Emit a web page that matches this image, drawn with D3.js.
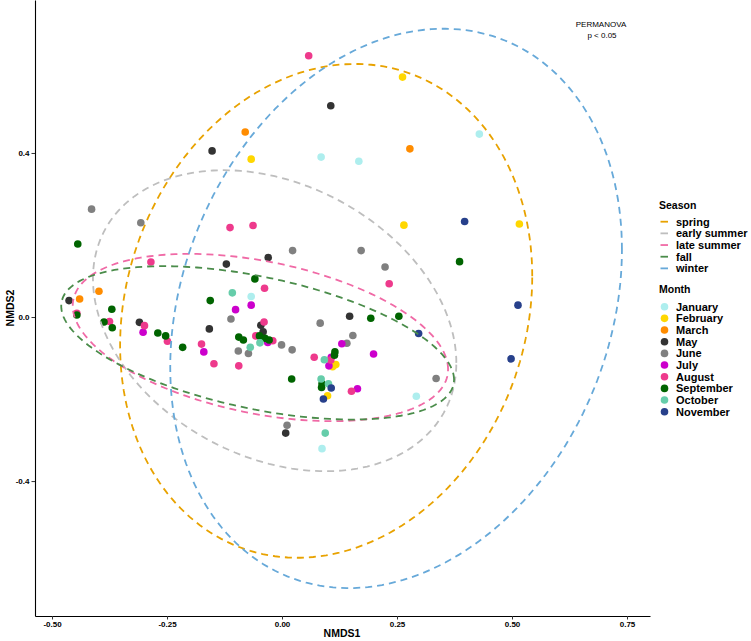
<!DOCTYPE html>
<html>
<head>
<meta charset="utf-8">
<script src="https://cdn.jsdelivr.net/npm/d3@7"></script>
<style>
  body { margin: 0; background: #fff; }
  text { font-family: "Liberation Sans", Arial, sans-serif; }
</style>
</head>
<body>
<div id="chart"></div>
<script>
// months shown in the legend, with their point colours
var months = ["January", "February", "March", "May", "June", "July", "August", "September", "October", "November"];
var monthColors = ["#AEEEEE", "#FFD700", "#FF8C00", "#333333", "#808080", "#CC00CC", "#EE3A8C", "#006400", "#66CDAA", "#27408B"];

// NMDS scores per month [NMDS1, NMDS2]
var january = [[0.085, 0.390], [0.167, 0.380], [0.429, 0.446], [-0.067, 0.050], [0.292, -0.193], [0.087, -0.321]];
var february = [[0.262, 0.585], [-0.067, 0.385], [0.265, 0.224], [0.516, 0.227], [0.117, -0.116], [0.110, -0.121], [0.099, -0.192]];
var march = [[-0.080, 0.451], [0.278, 0.410], [-0.398, 0.063], [-0.440, 0.044]];
var may = [[0.106, 0.515], [-0.152, 0.405], [-0.030, 0.145], [-0.121, 0.129], [-0.463, 0.040], [-0.310, -0.013],
  [-0.158, -0.029], [-0.046, -0.020], [-0.041, -0.036], [0.147, 0.002], [0.008, -0.283]];
var june = [[-0.414, 0.263], [-0.307, 0.230], [0.023, 0.162], [0.172, 0.162], [0.224, 0.122], [-0.111, -0.005],
  [-0.095, -0.083], [-0.073, -0.089], [-0.001, -0.068], [0.022, -0.080], [0.083, -0.015], [0.154, -0.045],
  [0.141, -0.064], [0.335, -0.150], [0.011, -0.264]];
var july = [[-0.067, 0.029], [-0.101, 0.018], [-0.031, -0.062], [-0.170, -0.085], [-0.302, -0.037], [0.130, -0.065],
  [0.199, -0.090], [0.107, -0.098], [0.102, -0.119], [0.164, -0.175]];
var august = [[0.058, 0.637], [-0.113, 0.218], [-0.063, 0.223], [-0.285, 0.134], [-0.038, 0.070], [-0.039, -0.012],
  [-0.057, -0.046], [-0.020, -0.058], [-0.175, -0.066], [-0.148, -0.114], [-0.094, -0.119], [0.070, -0.098],
  [0.106, -0.105], [0.151, -0.181], [0.233, 0.081], [-0.446, 0.009], [-0.375, -0.011], [-0.299, -0.021], [-0.249, -0.059]];
var september = [[-0.444, 0.178], [-0.059, 0.093], [-0.156, 0.040], [-0.094, -0.049], [-0.084, -0.056], [-0.049, -0.046],
  [-0.037, -0.052], [-0.028, -0.056], [-0.216, -0.074], [0.193, -0.003], [0.115, -0.085], [0.114, -0.093],
  [0.021, -0.151], [0.087, -0.163], [0.086, -0.172], [0.386, 0.135], [0.254, 0.002], [-0.446, 0.005],
  [-0.370, 0.019], [-0.387, -0.012], [-0.369, -0.026], [-0.270, -0.039], [-0.253, -0.046]];
var october = [[-0.108, 0.059], [-0.048, -0.063], [-0.069, -0.074], [0.092, -0.104], [0.085, -0.151], [0.101, -0.163], [0.094, -0.283]];
var november = [[0.397, 0.233], [0.513, 0.029], [0.297, -0.040], [0.498, -0.102], [0.107, -0.173], [0.090, -0.200]];
var monthPoints = [january, february, march, may, june, july, august, september, october, november];

// season ellipses: centre, half extents along each axis and tilt (correlation)
var seasons = ["spring", "early summer", "late summer", "fall", "winter"];
var seasonColors = ["#E8A200", "#BEBEBE", "#F06AA6", "#4A8C4A", "#67A9D9"];
var seasonCentreX = [0.096, -0.016, -0.047, -0.053, 0.248];
var seasonCentreY = [0.015, -0.009, -0.050, -0.063, 0.021];
var seasonHalfX = [0.448, 0.395, 0.408, 0.427, 0.491];
var seasonHalfY = [0.602, 0.367, 0.204, 0.187, 0.682];
var seasonTilt = [0.14, -0.28, -0.38, -0.48, 0.21];

var xTicks = [-0.5, -0.25, 0, 0.25, 0.5, 0.75];
var yTicks = [-0.4, 0, 0.4];

var width = 751, height = 641;
var svg = d3.select("#chart").append("svg").attr("width", width).attr("height", height);

var x = d3.scaleLinear().domain([-0.537, 0.8]).range([35, 650]);
var y = d3.scaleLinear().domain([-0.729, 0.773]).range([616, 0]);

// axes
var hyphen = function (f) { return function (d) { return f(d).replace("\u2212", "-"); }; };
var xAxis = svg.append("g").attr("transform", "translate(0,616)")
  .call(d3.axisBottom(x).tickValues(xTicks).tickSize(3.5).tickSizeOuter(0).tickPadding(2).tickFormat(hyphen(d3.format(".2f"))));
var yAxis = svg.append("g").attr("transform", "translate(35,0)")
  .call(d3.axisLeft(y).tickValues(yTicks).tickSize(3.5).tickSizeOuter(0).tickPadding(2).tickFormat(hyphen(d3.format(".1f"))));
[xAxis, yAxis].forEach(function (a) {
  a.select(".domain").attr("stroke", "#000").attr("stroke-width", 1.1);
  a.selectAll(".tick line").attr("stroke", "#333");
  a.selectAll(".tick text").attr("fill", "#000").style("font-size", "8px").style("font-weight", "bold");
});

svg.append("text").attr("x", 342).attr("y", 637).attr("text-anchor", "middle")
  .style("font-size", "10.5px").style("font-weight", "bold").text("NMDS1");
svg.append("text").attr("transform", "translate(14,308) rotate(-90)").attr("text-anchor", "middle")
  .style("font-size", "10.5px").style("font-weight", "bold").text("NMDS2");

// points
var plot = svg.append("g");
monthPoints.forEach(function (pts, i) {
  plot.selectAll(null).data(pts).enter().append("circle")
    .attr("cx", function (d) { return x(d[0]); })
    .attr("cy", function (d) { return y(d[1]); })
    .attr("r", 3.8)
    .attr("fill", monthColors[i]);
});

// ellipses
var line = d3.line().x(function (d) { return x(d[0]); }).y(function (d) { return y(d[1]); });
seasons.forEach(function (s, i) {
  var r = seasonTilt[i], q = Math.sqrt(1 - r * r);
  var path = d3.range(0, 201).map(function (k) {
    var t = k / 200 * 2 * Math.PI;
    return [seasonCentreX[i] + seasonHalfX[i] * Math.cos(t),
            seasonCentreY[i] + seasonHalfY[i] * (r * Math.cos(t) + q * Math.sin(t))];
  });
  plot.append("path").attr("d", line(path)).attr("fill", "none")
    .attr("stroke", seasonColors[i]).attr("stroke-width", 1.8).attr("stroke-dasharray", "7,5");
});

// annotation
svg.append("text").attr("x", 601).attr("y", 27).attr("text-anchor", "middle").style("font-size", "8px").text("PERMANOVA");
svg.append("text").attr("x", 602).attr("y", 38).attr("text-anchor", "middle").style("font-size", "8px").text("p < 0.05");

// legends
var lg = svg.append("g");
lg.append("text").attr("x", 659).attr("y", 209).style("font-size", "10.5px").style("font-weight", "bold").text("Season");
seasons.forEach(function (s, i) {
  var yy = 221.7 + i * 11.67;
  lg.append("line").attr("x1", 660.5).attr("x2", 668).attr("y1", yy).attr("y2", yy)
    .attr("stroke", seasonColors[i]).attr("stroke-width", 1.8);
  lg.append("text").attr("x", 676).attr("y", yy + 4).style("font-size", "11px").style("font-weight", "bold").text(s);
});
lg.append("text").attr("x", 659).attr("y", 293).style("font-size", "10.5px").style("font-weight", "bold").text("Month");
months.forEach(function (m, i) {
  var yy = 306.7 + i * 11.67;
  lg.append("circle").attr("cx", 664.5).attr("cy", yy).attr("r", 3.8).attr("fill", monthColors[i]);
  lg.append("text").attr("x", 676).attr("y", yy + 4).style("font-size", "11px").style("font-weight", "bold").text(m);
});
</script>
</body>
</html>
